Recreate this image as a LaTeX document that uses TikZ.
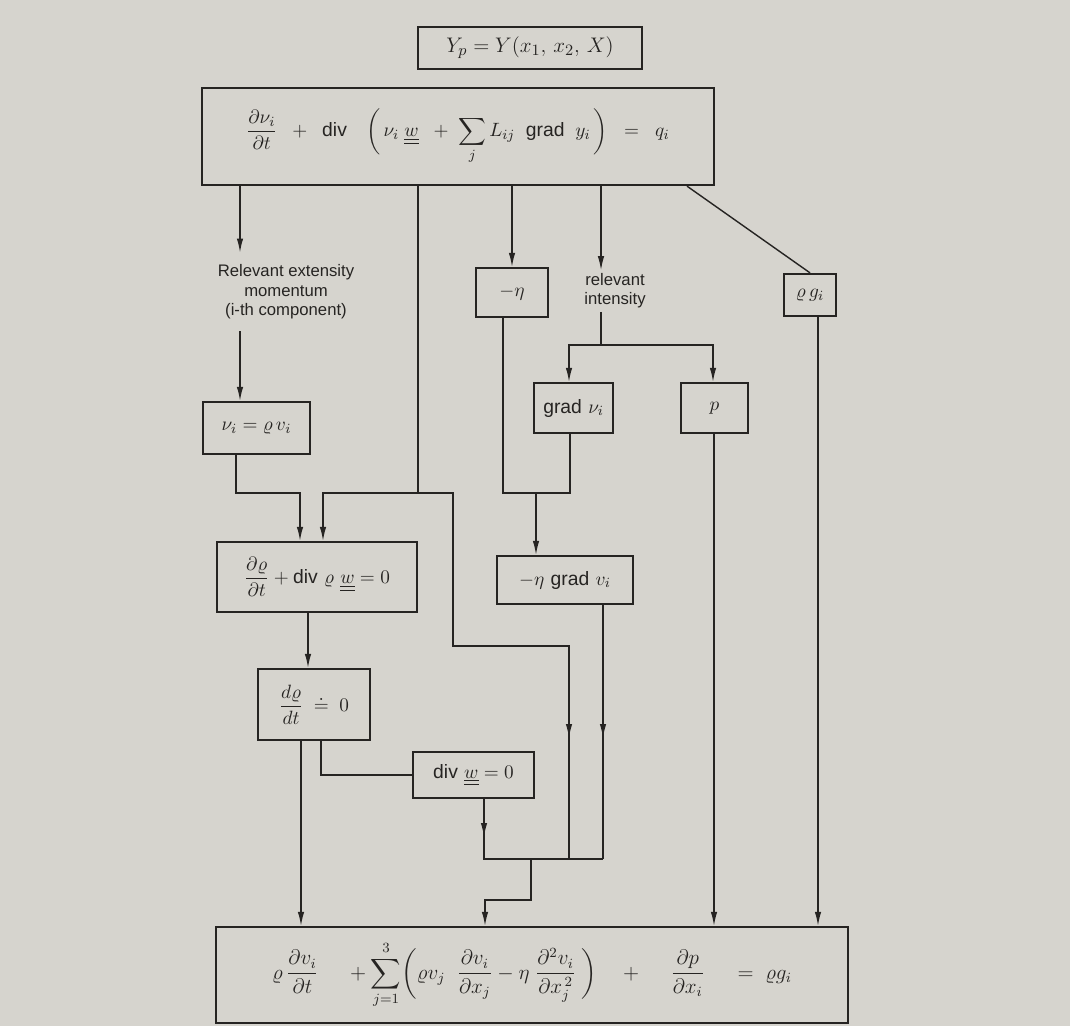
\documentclass[tikz,border=0pt]{standalone}
\usepackage{amsmath}
\usepackage{fontspec}
\setsansfont{Liberation Sans}
\usetikzlibrary{arrows.meta,positioning}
\definecolor{papel}{RGB}{214,212,206}
\definecolor{tinta}{RGB}{38,36,34}
\tikzset{
  caixa/.style={rectangle, draw=tinta, line width=1.3pt, fill=papel,
                inner sep=0pt, align=center, text=tinta,
                font=\fontsize{11}{13}\selectfont},
  rotulo/.style={align=center, text=tinta, inner xsep=0pt,
                 font=\sffamily\fontsize{9.5}{11}\selectfont},
  seta/.style={-{Latex[length=2.8mm,width=1.3mm]}, line width=0.8pt, tinta},
  linha/.style={line width=0.8pt, tinta},
}
\newcommand{\ww}{\underline{\underline{w}}}
\newcommand{\op}[1]{\textsf{#1}}

\begin{document}
\begin{tikzpicture}[x=0.2mm, y=-0.2mm]
  \fill[papel] (0,0) rectangle (1070,1026);

  \node[caixa, line width=0.9pt, minimum width=44.8mm, minimum height=8.4mm,
        font=\fontsize{13}{15}\selectfont] (yp) at (530,48) {$Y_p = Y(x_1,\, x_2,\, X)$};

  \node[caixa, minimum width=102.4mm, minimum height=19.4mm] (topo) at (458,136.5)
       {$\displaystyle\frac{\partial\nu_i}{\partial t}\;\;+\;\;\op{div}\quad
         \biggl(\,\nu_i\;\ww\;\;+\;\sum_{j} L_{ij}\;\;\op{grad}\;\;y_i\,\biggr)\;\;=\;\;q_i$};

  % middle row
  \node[rotulo, inner ysep=2.4mm] (ext) at (286,292)
       {Relevant extensity\\momentum\\(i-th component)};
  \node[caixa, minimum width=14.4mm, minimum height=9.8mm] (eta) at (512,292.5) {$-\eta$};
  \node[rotulo, inner ysep=0.6mm] (int) at (615,291) {relevant\\intensity};
  \node[caixa, minimum width=10.4mm, minimum height=8.4mm] (rhog) at (810,295) {$\varrho\, g_i$};

  \node[caixa, minimum width=15.8mm, minimum height=10mm] (gradnu) at (573.5,408) {\op{grad} $\nu_i$};
  \node[caixa, minimum width=13.4mm, minimum height=10mm] (p) at (714.5,408) {$p$};
  \node[caixa, minimum width=21.4mm, minimum height=10.4mm] (nu) at (256.5,428) {$\nu_i = \varrho\, v_i$};

  \node[caixa, minimum width=40mm, minimum height=14mm] (cont) at (317,577)
       {$\dfrac{\partial\varrho}{\partial t} + \op{div}\ \varrho\ \ww = 0$};
  \node[caixa, minimum width=27.2mm, minimum height=9.6mm] (etagrad) at (565,580)
       {$-\eta$\ \op{grad}\ $v_i$};
  \node[caixa, minimum width=22.4mm, minimum height=14.2mm] (drho) at (314,704.5)
       {$\dfrac{d\varrho}{dt}\;\doteq\; 0$};
  \node[caixa, minimum width=24.2mm, minimum height=9.2mm] (divw) at (473.5,775)
       {\op{div}\ $\ww = 0$};

  \node[caixa, minimum width=126.4mm, minimum height=19.2mm,
        font=\fontsize{12}{14}\selectfont] (base) at (532,975)
       {$\displaystyle\varrho\,\frac{\partial v_i}{\partial t}\quad\;+\sum_{j=1}^{3}\biggl(\varrho v_j\;\;
         \frac{\partial v_i}{\partial x_j} - \eta\;\frac{\partial^2 v_i}{\partial x_j^{\,2}}\;\biggr)
         \quad+\quad\;\frac{\partial p}{\partial x_i}\quad\;=\;\varrho g_i$};

  % junction points
  \coordinate (j1) at (484,859);
  \coordinate (j2) at (569,859);
  \coordinate (j3) at (603,859);
  \coordinate (j4) at (531,859);
  \coordinate (j5) at (536,493);
  \coordinate (j6) at (601,345);

  % from the balance equation
  \draw[seta] (topo.south -| 240,0) -- (ext.north -| 240,0);
  \draw[seta] (ext.south -| 240,0) -- (nu.north -| 240,0);
  \draw[seta] (topo.south -| 512,0) -- (eta.north);
  \draw[seta] (topo.south -| 601,0) -- (int.north -| 601,0);
  \draw[linha] (topo.south -| 687,0) -- (rhog.north);

  \draw[linha] (int.south -| 601,0) -- (j6);
  \draw[seta] (j6) -| (gradnu.north -| 569,0);
  \draw[seta] (j6) -| (p.north -| 713,0);

  \draw[seta] (nu.south -| 236,0) -- (236,493) -| (cont.north -| 300,0);
  \draw[seta] (topo.south -| 418,0) -- (418,493) -| (cont.north -| 323,0);
  \draw[linha] (418,493) -- (453,493) -- (453,646) -- (569,646) -- (j2);
  \draw[seta] (569,646) -- (569,738);

  \draw[linha] (eta.south -| 503,0) -- (503,493) -- (570,493) -- (gradnu.south -| 570,0);
  \draw[seta] (j5) -- (etagrad.north -| j5);
  \draw[linha] (etagrad.south -| 603,0) -- (j3);
  \draw[seta] (etagrad.south -| 603,0) -- (603,738);

  \draw[seta] (cont.south -| 308,0) -- (drho.north -| 308,0);
  \draw[seta] (drho.south -| 301,0) -- (base.north -| 301,0);
  \draw[linha] (drho.south -| 321,0) |- (divw.west);

  \draw[linha] (divw.south -| 484,0) -- (j1) -- (j3);
  \draw[seta] (divw.south -| 484,0) -- (484,837);
  \draw[seta] (j4) -- (531,900) -- (485,900) -- (base.north -| 485,0);

  \draw[seta] (p.south -| 714,0) -- (base.north -| 714,0);
  \draw[seta] (rhog.south -| 818,0) -- (base.north -| 818,0);
\end{tikzpicture}
\end{document}
